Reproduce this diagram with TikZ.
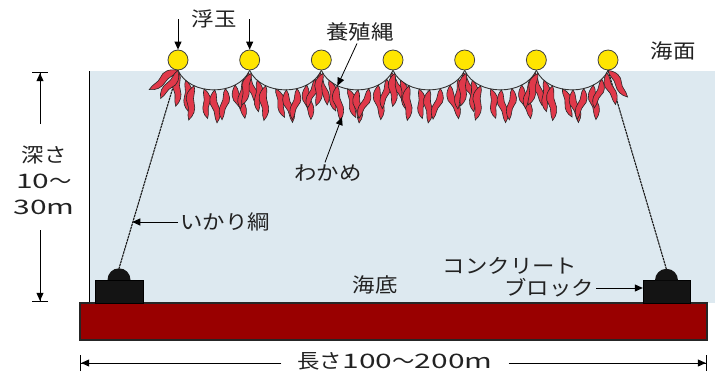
\documentclass[tikz,border=0pt]{standalone}
\usepackage{fontspec}
\setmainfont[FakeStretch=1.12]{Noto Sans CJK JP}
\newfontfamily\numfont[FakeStretch=1.5]{Noto Sans CJK JP}
\usetikzlibrary{arrows.meta}
\newcommand\digits[1]{{\numfont #1}}
\definecolor{seawater}{HTML}{DDE9F0}
\definecolor{seabedred}{HTML}{990000}
\definecolor{floatyellow}{HTML}{FFE500}
\definecolor{kelpred}{HTML}{E0394A}
\definecolor{inkgray}{HTML}{222222}
\tikzset{
  kelp/.style={fill=kelpred, draw=black!85, line width=0.6pt},
  blade/.pic={
    \path[kelp] (0,0) .. controls (-6,6) and (-7,13) .. (-3,18)
      .. controls (0,22) and (-2,27) .. (1,33)
      .. controls (5,28) and (6,22) .. (3,16)
      .. controls (0,11) and (3,5) .. (0,0) -- cycle;
  },
}
\begin{document}
\begin{tikzpicture}[x=1pt,y=-1pt,
  lbl/.style={font=\fontsize{20}{26}\selectfont, text=inkgray, inner sep=2pt},
  floatball/.style={circle, fill=floatyellow, draw=black!75, line width=0.8pt,
    minimum size=20pt, inner sep=0pt},
  ropeline/.style={draw=black!80, line width=0.9pt},
  tether/.style={draw=black!90, line width=1.1pt, dash pattern=on 2.5pt off 0.7pt},
  arr/.style={draw=black, line width=1pt, -{Triangle[length=8pt,width=7pt]}},
  barr/.style={draw=black, line width=1pt,
    -{Triangle[length=8pt,width=7pt]Bar[width=16pt,line width=1.2pt]}},
  anchorblk/.style={rectangle, fill=black!92, draw=black, minimum width=48pt,
    minimum height=23pt, inner sep=0pt},
]
\useasboundingbox (0,0) rectangle (715,375);

% sea water and its left wall
\fill[seawater] (89,71) rectangle (715,303);
\draw[line width=1pt] (89,71) -- (89,303);

% sea bed
\filldraw[fill=seabedred, draw=black!85, line width=1.2pt] (80,303) rectangle (707,340);

% concrete anchor blocks
\node[anchorblk] (lblk) at (119,291.5) {};
\fill[black!92] ([xshift=-11.5pt]lblk.north) arc[start angle=180,end angle=0,radius=11.5pt];
\coordinate (ldome) at (119,268.5);
\node[anchorblk, minimum width=47pt] (rblk) at (666.5,292) {};
\fill[black!92] ([xshift=-11.5pt]rblk.north) arc[start angle=180,end angle=0,radius=11.5pt];
\coordinate (rdome) at (666.5,269.5);

% floats
\foreach \i in {1,...,7}
  \node[floatball] (f\i) at ({178+71.67*(\i-1)},60) {};

% anchor ropes
\draw[tether] (f1.south) -- (ldome) coordinate[pos=0.775] (lmid);
\draw[tether] (f7.south) -- (rdome);

% culture rope between the floats
\foreach \i [evaluate=\i as \j using int(\i+1)] in {1,...,6}{
  \draw[ropeline] (f\i.south) .. controls +(12,26) and +(-12,26) .. (f\j.south)
    foreach \t [count=\k] in {0.04,0.15,0.27,0.39,0.51,0.63,0.75,0.87,0.97}
      {coordinate[pos=\t] (r\i-\k)};
}

% wakame blades hanging from the rope
\foreach \i in {1,...,6}{
  \foreach \k/\a/\s/\m in {1/-12/1.0/1, 2/10/0.95/-1, 3/-4/1.05/1, 4/14/0.9/-1,
      5/2/1.0/1, 6/-10/0.95/-1, 7/8/1.05/1, 8/-6/0.9/-1, 9/16/1.0/1}{
    \pgfmathsetmacro\ang{\a + 7*sin(\i*97+\k*53)}
    \pic[rotate=\ang, scale=\s, xscale=\m] at (r\i-\k) {blade};
  }
}
\pic[rotate=-58, scale=1.05] at (f1.south) {blade};
\pic[rotate=-30, scale=1.0, xscale=-1] at (f1.south) {blade};
\pic[rotate=38, scale=1.0, xscale=-1] at (f7.south) {blade};

% labels and pointers
\node[lbl] (ukidama) at (214,19) {浮玉};
\draw[arr] (f1.north |- ukidama.west) -- (f1.north);
\draw[arr] (f2.north |- ukidama.east) -- (f2.north);

\node[lbl] (yoshoku) at (360,32) {養殖縄};
\draw[arr, line width=0.8pt] ([xshift=-3pt]yoshoku.south) -- (r3-3);

\node[lbl] (wakame) at (328,173) {わかめ};
\coordinate (kelptip) at (342,117);
\draw[arr, line width=0.8pt] ([xshift=-3pt]wakame.north) -- (kelptip);

\node[lbl] (kaimen) at (673,51) {海面};

\node[lbl] (ikari) at (225,222) {いかり綱};
\draw[arr] (ikari.west) -- (ikari.west -| lmid);

\node[lbl] (kaitei) at (375,285) {海底};
\node[lbl] (konk) at (510,266) {コンクリート};
\node[lbl] (burokku) at (549,288) {ブロック};
\draw[arr] (burokku.east) -- (burokku.east -| rblk.west);

% depth dimension
\node[lbl, align=center] (depth) at (44,180) {深さ\\\digits{10}～\\\digits{30m}};
\coordinate (dtop) at (40,72);
\coordinate (dbot) at (40,302);
\coordinate (dup) at (40,124);
\coordinate (ddn) at (40,230);
\draw[barr] (dup) -- (dtop);
\draw[barr] (ddn) -- (dbot);

% length dimension
\node[lbl] (len) at (395,361) {長さ\digits{100}～\digits{200m}};
\coordinate (lenl) at (80,363);
\coordinate (lenr) at (707,363);
\draw[barr] ([xshift=-14pt]len.west |- lenl) -- (lenl);
\draw[barr] ([xshift=14pt]len.east |- lenr) -- (lenr);
\end{tikzpicture}
\end{document}
